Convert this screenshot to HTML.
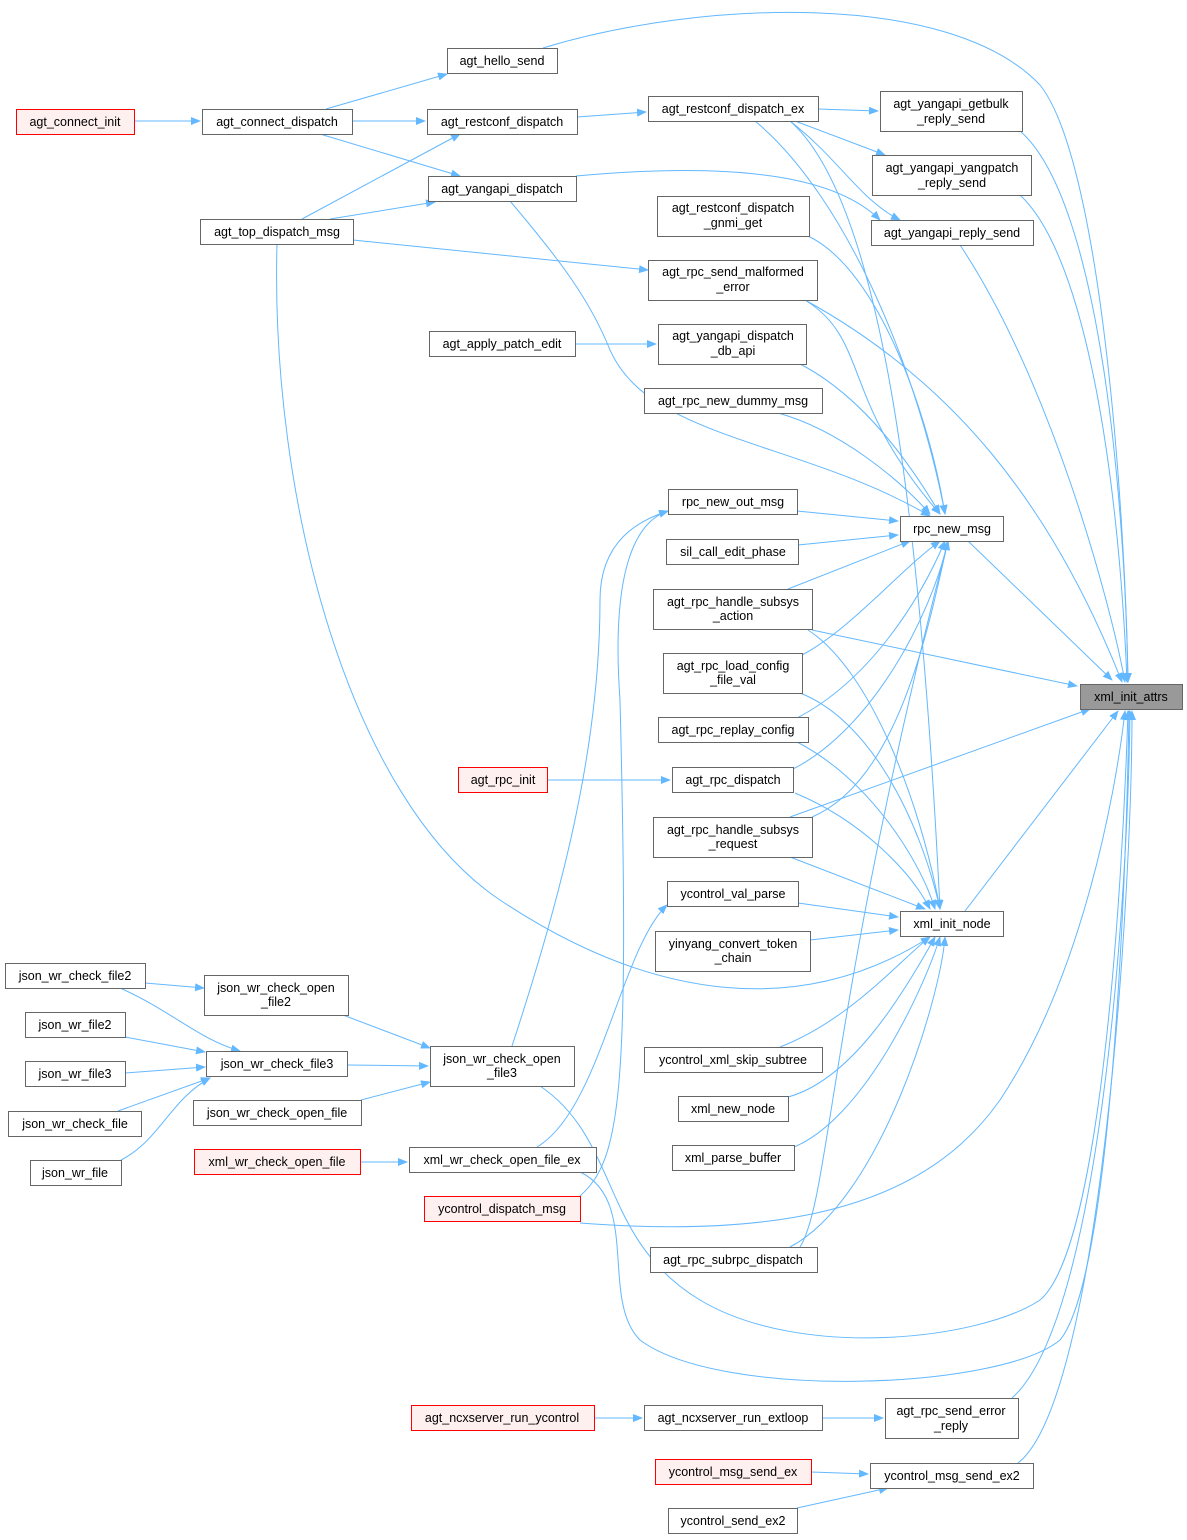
<!DOCTYPE html>
<html><head><meta charset="utf-8"><style>
html,body{margin:0;padding:0;background:#fff;width:1187px;height:1540px;overflow:hidden}
svg text{font-family:"Liberation Sans",Arial,sans-serif;font-size:12.5px;fill:#000}
</style></head><body>
<svg width="1187" height="1540" viewBox="0 0 1187 1540" xmlns="http://www.w3.org/2000/svg">
<defs><marker id="a" markerWidth="10" markerHeight="8" refX="9" refY="4" orient="auto" markerUnits="userSpaceOnUse"><path d="M0,0 L10,4 L0,8 z" fill="#63b8ff"/></marker></defs>
<g fill="none" stroke="#63b8ff" stroke-width="1" marker-end="url(#a)">
<path d="M543,48 C700,0 950,-10 1040,85 C1100,160 1125,500 1128,682"/>
<path d="M1020,131 C1100,200 1125,500 1128,682"/>
<path d="M1020,195 C1090,260 1120,500 1127,682"/>
<path d="M960,245 C1050,380 1110,600 1125,682"/>
<path d="M805,300 C950,380 1050,500 1122,682"/>
<path d="M968,541 L1112,680"/>
<path d="M812,630 L1077,686"/>
<path d="M790,817 L1090,709"/>
<path d="M965,911 L1118,711"/>
<path d="M580,1223 C800,1240 930,1200 1000,1100 C1080,980 1115,800 1125,711"/>
<path d="M540,1086 C620,1140 600,1240 700,1300 C800,1360 980,1340 1040,1300 C1100,1250 1122,900 1128,711"/>
<path d="M580,1172 C640,1200 600,1300 640,1340 C720,1400 1000,1390 1060,1340 C1110,1280 1126,900 1129,711"/>
<path d="M1012,1398 C1100,1320 1128,900 1130,711"/>
<path d="M1018,1463 C1100,1400 1132,900 1132,711"/>
<path d="M755,121 C850,200 920,380 945,514"/>
<path d="M510,201 C560,260 590,300 610,350 C650,440 800,440 930,516"/>
<path d="M808,236 C880,270 930,420 945,514"/>
<path d="M805,300 C870,340 840,400 940,514"/>
<path d="M800,364 C870,400 920,480 940,514"/>
<path d="M778,413 C840,430 900,480 930,514"/>
<path d="M797,511 L898,521"/>
<path d="M798,545 L898,535"/>
<path d="M788,589 L910,541"/>
<path d="M802,655 C850,630 900,570 940,541"/>
<path d="M797,718 C870,680 920,600 945,541"/>
<path d="M793,769 C870,730 930,620 948,541"/>
<path d="M812,817 C900,780 930,620 948,541"/>
<path d="M790,121 C880,200 920,500 940,909"/>
<path d="M576,176 C750,160 840,180 880,220"/>
<path d="M808,630 C870,670 920,800 940,909"/>
<path d="M800,693 C870,720 920,820 940,909"/>
<path d="M797,742 C870,780 920,860 935,909"/>
<path d="M795,793 C860,820 910,870 930,909"/>
<path d="M790,857 L925,909"/>
<path d="M798,903 L898,917"/>
<path d="M810,940 L898,930"/>
<path d="M780,1047 C850,1020 900,960 930,937"/>
<path d="M788,1097 C850,1080 900,1000 935,937"/>
<path d="M794,1147 C860,1120 920,1000 940,937"/>
<path d="M790,1247 C880,1200 940,1000 945,937"/>
<path d="M800,1247 C830,1200 830,1000 948,541"/>
<path d="M277,244 C270,500 350,800 500,900 C650,1000 800,1020 930,937"/>
<path d="M512,1046 C560,900 600,750 600,600 C600,540 640,520 668,511"/>
<path d="M537,1147 C600,1110 620,950 667,905"/>
<path d="M580,1196 C620,1160 630,1100 620,700 C610,560 640,520 668,511"/>
<path d="M134,121 L200,121"/>
<path d="M326,109 L447,74"/>
<path d="M352,121 L425,121"/>
<path d="M320,134 L460,176"/>
<path d="M302,219 L460,134"/>
<path d="M330,219 L435,202"/>
<path d="M353,240 L648,270"/>
<path d="M577,117 L646,112"/>
<path d="M818,109 L878,111"/>
<path d="M795,121 L885,155"/>
<path d="M790,121 C840,160 860,200 900,220"/>
<path d="M575,344 L656,344"/>
<path d="M547,780 L670,780"/>
<path d="M145,983 L204,988"/>
<path d="M120,988 C170,1010 200,1040 240,1051"/>
<path d="M125,1037 L205,1052"/>
<path d="M125,1073 L205,1067"/>
<path d="M118,1111 L210,1078"/>
<path d="M121,1160 C160,1140 170,1100 210,1078"/>
<path d="M343,1015 L430,1048"/>
<path d="M347,1065 L428,1066"/>
<path d="M361,1100 L430,1082"/>
<path d="M360,1162 L407,1162"/>
<path d="M594,1418 L642,1418"/>
<path d="M822,1418 L883,1418"/>
<path d="M811,1472 L868,1474"/>
<path d="M797,1508 L888,1488"/>
</g>
<g stroke-width="1">
<g stroke="#666" fill="#fff">
<rect x="447.5" y="48.5" width="110" height="25"/>
<rect x="202.5" y="109.5" width="150" height="25"/>
<rect x="427.5" y="109.5" width="150" height="25"/>
<rect x="648.5" y="96.5" width="170" height="25"/>
<rect x="880.5" y="91.5" width="142" height="40"/>
<rect x="872.5" y="155.5" width="159" height="40"/>
<rect x="428.5" y="176.5" width="148" height="25"/>
<rect x="200.5" y="219.5" width="153" height="25"/>
<rect x="657.5" y="196.5" width="152" height="40"/>
<rect x="871.5" y="220.5" width="162" height="25"/>
<rect x="648.5" y="260.5" width="169" height="40"/>
<rect x="429.5" y="331.5" width="146" height="25"/>
<rect x="658.5" y="324.5" width="148" height="40"/>
<rect x="644.5" y="388.5" width="178" height="25"/>
<rect x="668.5" y="489.5" width="129" height="25"/>
<rect x="900.5" y="516.5" width="103" height="25"/>
<rect x="666.5" y="539.5" width="132" height="25"/>
<rect x="653.5" y="589.5" width="159" height="40"/>
<rect x="663.5" y="653.5" width="139" height="40"/>
<rect x="658.5" y="717.5" width="150" height="25"/>
<rect x="672.5" y="767.5" width="121" height="25"/>
<rect x="653.5" y="817.5" width="159" height="40"/>
<rect x="667.5" y="881.5" width="131" height="25"/>
<rect x="900.5" y="911.5" width="103" height="25"/>
<rect x="655.5" y="931.5" width="155" height="40"/>
<rect x="5.5" y="963.5" width="140" height="25"/>
<rect x="204.5" y="975.5" width="144" height="40"/>
<rect x="25.5" y="1012.5" width="100" height="25"/>
<rect x="206.5" y="1051.5" width="141" height="25"/>
<rect x="430.5" y="1046.5" width="144" height="40"/>
<rect x="644.5" y="1047.5" width="178" height="25"/>
<rect x="25.5" y="1061.5" width="100" height="25"/>
<rect x="193.5" y="1100.5" width="168" height="25"/>
<rect x="8.5" y="1111.5" width="133" height="25"/>
<rect x="678.5" y="1096.5" width="110" height="25"/>
<rect x="409.5" y="1147.5" width="187" height="25"/>
<rect x="672.5" y="1145.5" width="122" height="25"/>
<rect x="30.5" y="1160.5" width="91" height="25"/>
<rect x="650.5" y="1247.5" width="167" height="25"/>
<rect x="644.5" y="1405.5" width="178" height="25"/>
<rect x="885.5" y="1398.5" width="133" height="40"/>
<rect x="870.5" y="1463.5" width="163" height="25"/>
<rect x="668.5" y="1508.5" width="129" height="25"/>
</g>
<rect x="1080.5" y="684.5" width="102" height="25" fill="#999" stroke="#666"/>
<g stroke="#f00" fill="#fff0f0">
<rect x="16.5" y="109.5" width="118" height="25"/>
<rect x="458.5" y="767.5" width="89" height="25"/>
<rect x="194.5" y="1149.5" width="166" height="25"/>
<rect x="424.5" y="1196.5" width="156" height="25"/>
<rect x="411.5" y="1405.5" width="183" height="25"/>
<rect x="655.5" y="1459.5" width="156" height="25"/>
</g>
</g>
<g text-anchor="middle">
<text x="502" y="65">agt_hello_send</text>
<text x="75" y="126">agt_connect_init</text>
<text x="277" y="126">agt_connect_dispatch</text>
<text x="502" y="126">agt_restconf_dispatch</text>
<text x="733" y="113">agt_restconf_dispatch_ex</text>
<text x="951" y="108">agt_yangapi_getbulk</text><text x="951" y="123">_reply_send</text>
<text x="952" y="172">agt_yangapi_yangpatch</text><text x="952" y="187">_reply_send</text>
<text x="502" y="193">agt_yangapi_dispatch</text>
<text x="277" y="236">agt_top_dispatch_msg</text>
<text x="733" y="212">agt_restconf_dispatch</text><text x="733" y="227">_gnmi_get</text>
<text x="952" y="237">agt_yangapi_reply_send</text>
<text x="733" y="276">agt_rpc_send_malformed</text><text x="733" y="291">_error</text>
<text x="502" y="348">agt_apply_patch_edit</text>
<text x="733" y="340">agt_yangapi_dispatch</text><text x="733" y="355">_db_api</text>
<text x="733" y="405">agt_rpc_new_dummy_msg</text>
<text x="733" y="506">rpc_new_out_msg</text>
<text x="952" y="533">rpc_new_msg</text>
<text x="733" y="556">sil_call_edit_phase</text>
<text x="733" y="606">agt_rpc_handle_subsys</text><text x="733" y="620">_action</text>
<text x="733" y="670">agt_rpc_load_config</text><text x="733" y="684">_file_val</text>
<text x="1131" y="701">xml_init_attrs</text>
<text x="733" y="734">agt_rpc_replay_config</text>
<text x="503" y="784">agt_rpc_init</text>
<text x="733" y="784">agt_rpc_dispatch</text>
<text x="733" y="834">agt_rpc_handle_subsys</text><text x="733" y="848">_request</text>
<text x="733" y="898">ycontrol_val_parse</text>
<text x="952" y="928">xml_init_node</text>
<text x="733" y="948">yinyang_convert_token</text><text x="733" y="962">_chain</text>
<text x="75" y="980">json_wr_check_file2</text>
<text x="276" y="992">json_wr_check_open</text><text x="276" y="1006">_file2</text>
<text x="75" y="1029">json_wr_file2</text>
<text x="277" y="1068">json_wr_check_file3</text>
<text x="502" y="1063">json_wr_check_open</text><text x="502" y="1077">_file3</text>
<text x="733" y="1064">ycontrol_xml_skip_subtree</text>
<text x="75" y="1078">json_wr_file3</text>
<text x="277" y="1117">json_wr_check_open_file</text>
<text x="75" y="1128">json_wr_check_file</text>
<text x="733" y="1113">xml_new_node</text>
<text x="277" y="1166">xml_wr_check_open_file</text>
<text x="502" y="1164">xml_wr_check_open_file_ex</text>
<text x="733" y="1162">xml_parse_buffer</text>
<text x="75" y="1177">json_wr_file</text>
<text x="502" y="1213">ycontrol_dispatch_msg</text>
<text x="733" y="1264">agt_rpc_subrpc_dispatch</text>
<text x="502" y="1422">agt_ncxserver_run_ycontrol</text>
<text x="733" y="1422">agt_ncxserver_run_extloop</text>
<text x="951" y="1415">agt_rpc_send_error</text><text x="951" y="1430">_reply</text>
<text x="733" y="1476">ycontrol_msg_send_ex</text>
<text x="952" y="1480">ycontrol_msg_send_ex2</text>
<text x="733" y="1525">ycontrol_send_ex2</text>
</g>
</svg>
</body></html>
